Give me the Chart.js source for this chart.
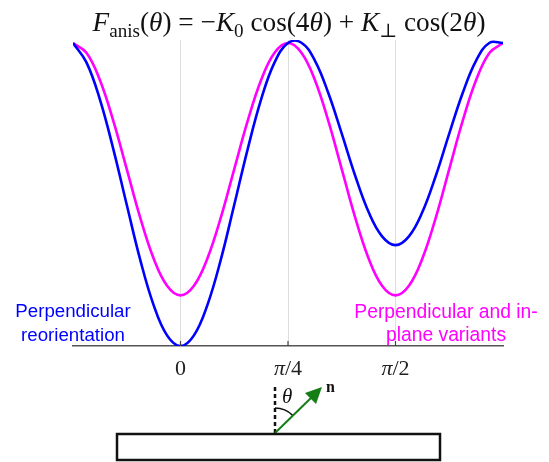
<!DOCTYPE html>
<html>
<head>
<meta charset="utf-8">
<script src="https://cdn.jsdelivr.net/npm/chart.js@4/dist/chart.umd.min.js"></script>
<style>
  html, body { margin: 0; padding: 0; background: #fff; }
</style>
</head>
<body>
<canvas id="anisChart" width="549" height="462"></canvas>
<script>
'use strict'

// theta in units of pi
const thetas = [-0.25, -0.21875, -0.1875, -0.15625, -0.125, -0.09375, -0.0625, -0.03125,
  0, 0.03125, 0.0625, 0.09375, 0.125, 0.15625, 0.1875, 0.21875,
  0.25, 0.28125, 0.3125, 0.34375, 0.375, 0.40625, 0.4375, 0.46875,
  0.5, 0.53125, 0.5625, 0.59375, 0.625, 0.65625, 0.6875, 0.71875, 0.75];

// blue curve (perpendicular reorientation)
const perpValues = [1.0, 0.936, 0.814, 0.650, 0.466, 0.285, 0.135, 0.035,
  0, 0.035, 0.135, 0.285, 0.466, 0.650, 0.814, 0.936,
  1.0, 1.001, 0.942, 0.835, 0.701, 0.562, 0.442, 0.362,
  0.333, 0.362, 0.442, 0.562, 0.701, 0.835, 0.942, 1.001, 1.0];

// magenta curve (perpendicular and in-plane variants)
const variantValues = [1.0, 0.968, 0.878, 0.743, 0.584, 0.424, 0.289, 0.199,
  0.167, 0.199, 0.289, 0.424, 0.584, 0.743, 0.878, 0.968,
  1.0, 0.968, 0.878, 0.743, 0.584, 0.424, 0.289, 0.199,
  0.167, 0.199, 0.289, 0.424, 0.584, 0.743, 0.878, 0.968, 1.0];

const tickValues = [0, 0.25, 0.5];
const tickLabels = [[['0', 'r']], [['π', 'i'], ['/4', 'r']], [['π', 'i'], ['/2', 'r']]];

const titleParts = [['F', 'i'], ['anis', 's'], ['(', 'r'], ['θ', 'i'], [')', 'r'], [' = ', 'r'],
  ['−', 'r'], ['K', 'i'], ['0', 's'], [' cos(4', 'r'], ['θ', 'i'], [') + ', 'r'],
  ['K', 'i'], ['⊥', 's'], [' cos(2', 'r'], ['θ', 'i'], [')', 'r']];

const SERIF = '"Liberation Serif", "DejaVu Serif", serif';
const SANS = '"Liberation Sans", Arial, sans-serif';

function fontFor(style, size) {
  if (style === 'i') return 'italic ' + size + 'px ' + SERIF;
  if (style === 's') return (size * 0.7).toFixed(1) + 'px ' + SERIF;
  return size + 'px ' + SERIF;
}

function mathWidths(ctx, parts, size) {
  return parts.map(p => { ctx.font = fontFor(p[1], size); return ctx.measureText(p[0]).width; });
}

// draws a run of mixed-style math text, centred on cx
function drawMath(ctx, parts, cx, baseline, size) {
  const widths = mathWidths(ctx, parts, size);
  const total = widths.reduce((a, b) => a + b, 0);
  let x = cx - total / 2;
  ctx.textAlign = 'left';
  ctx.textBaseline = 'alphabetic';
  parts.forEach((p, i) => {
    ctx.font = fontFor(p[1], size);
    ctx.fillText(p[0], x, p[1] === 's' ? baseline + size * 0.22 : baseline);
    x += widths[i];
  });
}

const decorations = {
  id: 'decorations',
  afterDraw(chart) {
    const ctx = chart.ctx;
    const xs = chart.scales.x;
    const area = chart.chartArea;
    ctx.save();

    // inward tick marks
    ctx.strokeStyle = '#444';
    ctx.lineWidth = 1.2;
    tickValues.forEach(v => {
      const px = xs.getPixelForValue(v);
      ctx.beginPath();
      ctx.moveTo(px, area.bottom);
      ctx.lineTo(px, area.bottom - 5);
      ctx.stroke();
    });

    // tick labels
    ctx.fillStyle = '#222';
    tickValues.forEach((v, i) => {
      drawMath(ctx, tickLabels[i], xs.getPixelForValue(v), area.bottom + 29, 22);
    });

    // title, sized to span the same width as the original
    const w25 = mathWidths(ctx, titleParts, 25).reduce((a, b) => a + b, 0);
    const titleSize = Math.min(28, 25 * 393 / w25);
    ctx.fillStyle = '#111';
    drawMath(ctx, titleParts, 289, 31, titleSize);

    // curve labels
    ctx.font = '18.7px ' + SANS;
    ctx.textAlign = 'center';
    ctx.fillStyle = '#0000ff';
    ctx.fillText('Perpendicular', 73, 317);
    ctx.fillText('reorientation', 73, 340.5);
    ctx.font = '19.3px ' + SANS;
    ctx.fillStyle = '#ff00ff';
    ctx.fillText('Perpendicular and in-', 446, 318);
    ctx.fillText('plane variants', 446, 340.5);

    // film sketch
    const ox = 275, oy = 433;
    ctx.strokeStyle = '#111';
    ctx.lineWidth = 2.5;
    ctx.setLineDash([4, 3]);
    ctx.beginPath();
    ctx.moveTo(ox, oy);
    ctx.lineTo(ox, 387);
    ctx.stroke();
    ctx.setLineDash([]);

    ctx.lineWidth = 1.6;
    ctx.beginPath();
    ctx.arc(ox, oy, 25, -Math.PI / 2, -Math.PI / 4);
    ctx.stroke();

    ctx.strokeStyle = '#157d15';
    ctx.fillStyle = '#157d15';
    ctx.lineWidth = 2;
    ctx.beginPath();
    ctx.moveTo(ox, oy);
    ctx.lineTo(313, 396);
    ctx.stroke();
    ctx.beginPath();
    ctx.moveTo(322, 387);
    ctx.lineTo(305, 393);
    ctx.lineTo(316, 404);
    ctx.closePath();
    ctx.fill();

    ctx.fillStyle = '#111';
    ctx.textAlign = 'left';
    ctx.font = 'italic 21px ' + SERIF;
    ctx.fillText('θ', 282, 403);
    ctx.font = 'bold 16px ' + SERIF;
    ctx.fillText('n', 326, 392);

    ctx.fillStyle = '#fff';
    ctx.fillRect(117, 434, 323, 26);
    ctx.strokeStyle = '#111';
    ctx.lineWidth = 2.5;
    ctx.strokeRect(117, 434, 323, 26);

    ctx.restore();
  }
};

const ctx = document.getElementById('anisChart').getContext('2d');
const anisChart = new Chart(ctx, {
  type: 'line',
  data: {
    datasets: [
      {
        label: 'Perpendicular reorientation',
        data: thetas.map((t, i) => ({ x: t, y: perpValues[i] })),
        borderColor: '#0000ff',
        borderWidth: 2.6,
        pointRadius: 0,
        tension: 0.4,
        fill: false
      },
      {
        label: 'Perpendicular and in-plane variants',
        data: thetas.map((t, i) => ({ x: t, y: variantValues[i] })),
        borderColor: '#ff00ff',
        borderWidth: 2.6,
        pointRadius: 0,
        tension: 0.4,
        fill: false
      }
    ]
  },
  options: {
    responsive: false,
    animation: false,
    devicePixelRatio: 1,
    layout: {
      padding: { left: 73, right: 46, top: 40, bottom: 116 }
    },
    scales: {
      x: {
        type: 'linear',
        min: -0.25,
        max: 0.75,
        afterBuildTicks: scale => {
          scale.ticks = tickValues.map(v => ({ value: v }));
        },
        ticks: { display: false },
        grid: { color: '#dddddd', lineWidth: 1, drawTicks: false },
        border: { color: '#555555', width: 1.5 }
      },
      y: {
        display: false,
        min: 0,
        max: 1.01
      }
    },
    plugins: {
      legend: { display: false },
      title: { display: false },
      tooltip: { enabled: false }
    }
  },
  plugins: [decorations]
});
</script>
</body>
</html>
